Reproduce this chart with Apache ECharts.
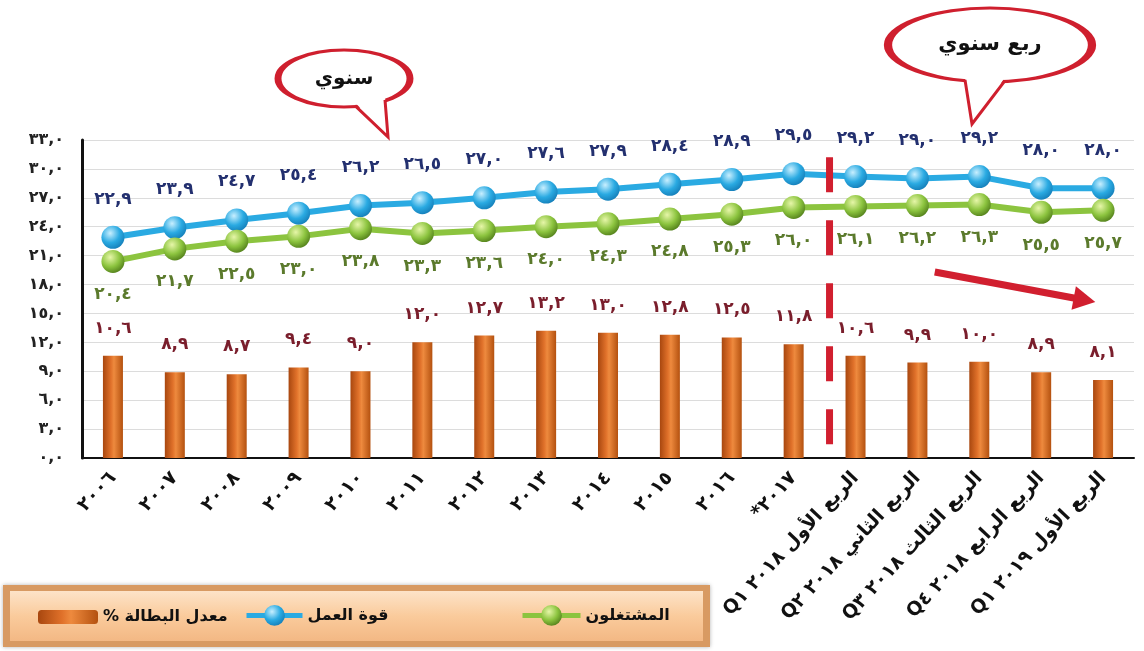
<!DOCTYPE html>
<html lang="ar">
<head>
<meta charset="UTF-8">
<script src="https://cdn.jsdelivr.net/npm/echarts@6/dist/echarts.min.js"></script>
<title>قوة العمل والمشتغلون ومعدل البطالة</title>
</head>
<body style="margin:0">
<div id="main" style="width:1144px;height:651px;"></div>
<script>
// data
var categories = ['٢٠٠٦', '٢٠٠٧', '٢٠٠٨', '٢٠٠٩', '٢٠١٠', '٢٠١١', '٢٠١٢', '٢٠١٣', '٢٠١٤', '٢٠١٥', '٢٠١٦', '*٢٠١٧',
    'Q١ ٢٠١٨ الربع الأول', 'Q٢ ٢٠١٨ الربع الثاني', 'Q٣ ٢٠١٨ الربع الثالث', 'Q٤ ٢٠١٨ الربع الرابع', 'Q١ ٢٠١٩ الربع الأول'];
var laborForce = [22.9, 23.9, 24.7, 25.4, 26.2, 26.5, 27.0, 27.6, 27.9, 28.4, 28.9, 29.5, 29.2, 29.0, 29.2, 28.0, 28.0];
var employed = [20.4, 21.7, 22.5, 23.0, 23.8, 23.3, 23.6, 24.0, 24.3, 24.8, 25.3, 26.0, 26.1, 26.2, 26.3, 25.5, 25.7];
var unemployment = [10.6, 8.9, 8.7, 9.4, 9.0, 12.0, 12.7, 13.2, 13.0, 12.8, 12.5, 11.8, 10.6, 9.9, 10.0, 8.9, 8.1];
var seriesNames = ['معدل البطالة %', 'قوة العمل', 'المشتغلون'];
var yMin = 0, yMax = 33, yStep = 3;
// annotation positions in (category-slot, value) units
var dividerLine = [[12.08, 31.2], [12.08, 1.0]];
var trendArrow = [[13.78, 19.3], [16.2, 16.4]];

var FONT = 'DejaVu Sans';
var arDigits = '٠١٢٣٤٥٦٧٨٩';
function toAr(v) {
    return v.toFixed(1).replace('.', ',').replace(/[0-9]/g, function (d) { return arDigits[+d]; });
}
function catLabel(s) {
    if (s.charAt(0) !== 'Q') return s;
    var p = s.split(' ');
    return p[0] + '\u200E \u200E' + p[1] + '\u200E ' + p.slice(2).join(' ');
}

function sphere(light, mid, dark) {
    return {
        type: 'radial', x: 0.38, y: 0.32, r: 0.75,
        colorStops: [{ offset: 0, color: light }, { offset: 0.55, color: mid }, { offset: 1, color: dark }]
    };
}
var barFill = {
    type: 'linear', x: 0, y: 0, x2: 1, y2: 0,
    colorStops: [{ offset: 0, color: '#a8470f' }, { offset: 0.4, color: '#e0712a' },
        { offset: 0.55, color: '#ee8a3e' }, { offset: 1, color: '#b4510f' }]
};

var chart = echarts.init(document.getElementById('main'));

function legendAt(name, left, top, w, h) {
    return {
        data: [name], left: left, top: top, itemWidth: w, itemHeight: h, itemGap: 8,
        selectedMode: false, padding: 0,
        lineStyle: { width: 5 },
        formatter: function (n) { return n + '\u200F'; },
        textStyle: { fontFamily: FONT, fontWeight: 'bold', fontSize: 16, color: '#111' }
    };
}

// speech bubble: ellipse + tail down to tip
function bubble(cx, cy, rx, ry, bx1, bx2, tip, text, fs) {
    var y1 = cy + ry * Math.sqrt(1 - Math.pow((bx1 - cx) / rx, 2));
    var y2 = cy + ry * Math.sqrt(1 - Math.pow((bx2 - cx) / rx, 2));
    var red = '#cf1f2e';
    return [{
        type: 'circle', z: 100, x: cx, y: cy, scaleX: rx / ry,
        shape: { cx: 0, cy: 0, r: ry },
        style: { fill: '#fff', stroke: red, lineWidth: 3, strokeNoScale: true }
    }, {
        type: 'polygon', z: 101,
        shape: { points: [[bx1, y1 - 4], [bx2, y2 - 4], tip] },
        style: { fill: '#fff' }
    }, {
        type: 'polyline', z: 102,
        shape: { points: [[bx1, y1 - 1], tip, [bx2, y2 - 1]] },
        style: { stroke: red, lineWidth: 3, fill: null }
    }, {
        type: 'text', z: 103, x: cx, y: cy,
        style: { text: text, fill: '#111', font: 'bold ' + fs + 'px "' + FONT + '"', align: 'center', verticalAlign: 'middle' }
    }];
}

var option = {
    backgroundColor: '#fff',
    animation: false,
    grid: { left: 82, right: 10, top: 140, bottom: 193 },
    legend: [
        legendAt(seriesNames[0], 38, 609, 60, 14),
        legendAt(seriesNames[1], 244, 605, 56, 26),
        legendAt(seriesNames[2], 520, 605, 58, 26)
    ],
    graphic: [
        {
            type: 'rect', z: -1, shape: { x: 3, y: 585, width: 707, height: 62 },
            style: { fill: '#d89a62', shadowBlur: 4, shadowColor: 'rgba(0,0,0,0.3)' }
        },
        {
            type: 'rect', z: -1, shape: { x: 10, y: 591, width: 693, height: 50 },
            style: {
                fill: {
                    type: 'linear', x: 0, y: 0, x2: 0, y2: 1,
                    colorStops: [{ offset: 0, color: '#fde3c8' }, { offset: 0.5, color: '#facb9c' }, { offset: 1, color: '#f3b884' }]
                }
            }
        }
    ].concat(bubble(344, 78.5, 66, 28.5, 355, 385, [388, 137], 'سنوي', 20))
     .concat(bubble(990, 45, 102, 37, 965, 1005, [972, 124], 'ربع سنوي', 21)),
    xAxis: [{
        type: 'category',
        data: categories,
        axisLine: { lineStyle: { color: '#111', width: 2 } },
        axisTick: { show: false },
        axisLabel: {
            interval: 0, rotate: 47, margin: 17,
            fontFamily: FONT, fontWeight: 'bold', fontSize: 19, color: '#111',
            formatter: catLabel
        }
    }, {
        type: 'value', min: 0, max: categories.length, show: false
    }],
    yAxis: {
        type: 'value', min: yMin, max: yMax, interval: yStep,
        axisLine: { show: true, lineStyle: { color: '#111', width: 3 } },
        axisTick: { show: false },
        splitLine: { lineStyle: { color: '#dcdcdc', width: 1 } },
        axisLabel: {
            margin: 18, fontFamily: FONT, fontWeight: 'bold', fontSize: 16, color: '#222',
            formatter: toAr
        }
    },
    series: [
        {
            name: seriesNames[0], type: 'bar', data: unemployment, barWidth: 20, z: 2,
            itemStyle: { color: barFill },
            label: {
                show: true, position: 'top', distance: 19,
                fontFamily: FONT, fontWeight: 'bold', fontSize: 17, color: '#7a1e2c',
                formatter: function (p) { return toAr(p.value); }
            }
        },
        {
            name: seriesNames[1], type: 'line', data: laborForce, z: 3,
            symbol: 'circle', symbolSize: 23,
            lineStyle: { color: '#2aaae2', width: 6 },
            itemStyle: { color: sphere('#c8efff', '#2aaae2', '#137ab5') },
            label: {
                show: true, position: 'top', distance: 18,
                fontFamily: FONT, fontWeight: 'bold', fontSize: 17, color: '#23306f',
                formatter: function (p) { return toAr(p.value); }
            }
        },
        {
            name: seriesNames[2], type: 'line', data: employed, z: 3,
            symbol: 'circle', symbolSize: 23,
            lineStyle: { color: '#8cc43f', width: 6 },
            itemStyle: { color: sphere('#e6f6a8', '#8cc43f', '#4e7a18') },
            label: {
                show: true, position: 'bottom', distance: 13,
                fontFamily: FONT, fontWeight: 'bold', fontSize: 17, color: '#5b7a2c',
                formatter: function (p) { return toAr(p.value); }
            }
        },
        {
            name: 'divider', type: 'line', xAxisIndex: 1, data: dividerLine, z: 5,
            symbol: 'none', silent: true,
            lineStyle: { color: '#d11f2f', width: 7, type: [35, 28] },
            markLine: {
                silent: true, symbol: ['none', 'triangle'], symbolSize: [24, 22],
                label: { show: false },
                lineStyle: { color: '#d11f2f', width: 7, type: 'solid' },
                data: [[{ coord: trendArrow[0] }, { coord: trendArrow[1] }]]
            }
        }
    ]
};
chart.setOption(option);
</script>
</body>
</html>
